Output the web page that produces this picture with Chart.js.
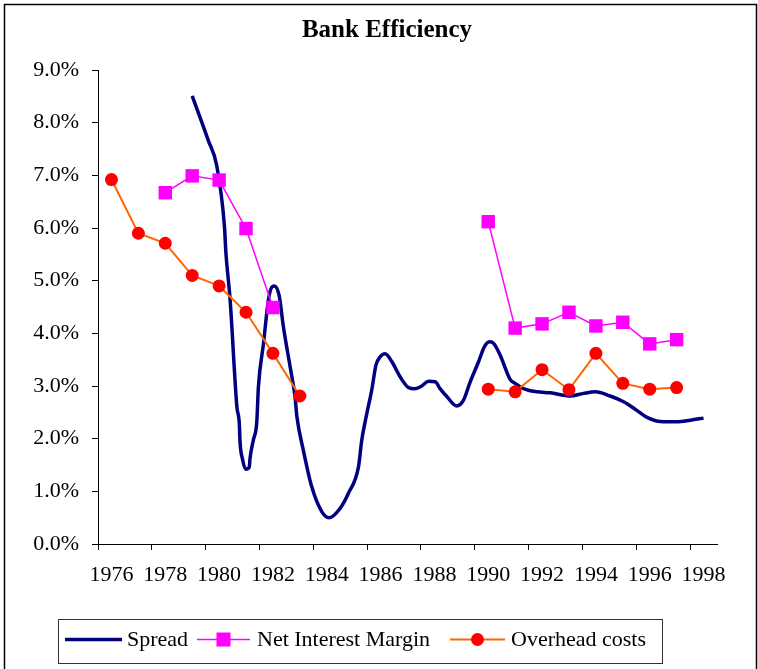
<!DOCTYPE html>
<html lang="en">
<head>
    <meta charset="UTF-8">
    <title>Bank Efficiency</title>
    <script src="https://cdn.jsdelivr.net/npm/chart.js"></script>
    <style>
        body { margin: 0; background: #fff; }
    </style>
</head>
<body>
    <canvas id="bankChart" width="758" height="669"></canvas>

    <script>
        // annual series (null = no data that year)
        const years = [1976, 1977, 1978, 1979, 1980, 1981, 1982, 1983, 1984, 1985, 1986, 1987,
                       1988, 1989, 1990, 1991, 1992, 1993, 1994, 1995, 1996, 1997, 1998];
        const netInterestMargin = [null, null, 6.67, 6.99, 6.91, 5.99, 4.49, null, null, null, null, null,
                                   null, null, 6.12, 4.10, 4.18, 4.40, 4.14, 4.21, 3.80, 3.88, null];
        const overheadCosts = [6.92, 5.90, 5.71, 5.10, 4.90, 4.40, 3.62, 2.81, null, null, null, null,
                               null, null, 2.94, 2.89, 3.31, 2.93, 3.62, 3.05, 2.94, 2.97, null];

        // spread is sampled more often than once a year
        const spreadYears = [1979.0, 1979.6, 1979.91, 1980.2, 1980.25, 1980.41, 1980.66, 1980.75, 1980.78,
                             1980.86, 1980.99, 1981.12, 1981.15, 1981.27, 1981.4, 1981.46, 1981.65, 1981.83,
                             1981.96, 1982.05, 1982.23, 1982.39, 1982.64, 1982.82, 1982.89, 1983.13, 1983.44,
                             1983.82, 1984.09, 1984.5, 1984.8, 1985.18, 1985.3, 1985.49, 1985.67, 1985.83,
                             1985.98, 1986.17, 1986.42, 1986.73, 1987.04, 1987.28, 1987.53, 1987.78, 1988.03,
                             1988.21, 1988.46, 1988.83, 1989.08, 1989.33, 1989.64, 1989.85, 1990.05, 1990.2,
                             1990.44, 1990.82, 1991.0, 1991.31, 1991.81, 1992.3, 1993.05, 1993.54, 1993.98,
                             1994.53, 1995.03, 1995.46, 1995.96, 1996.52, 1997.01, 1997.51, 1998.0];
        const spreadValues = [8.51, 7.66, 7.19, 6.02, 5.55, 4.63, 2.61, 2.29, 1.92,
                              1.63, 1.42, 1.46, 1.63, 1.97, 2.32, 2.98, 3.81, 4.63,
                              4.88, 4.90, 4.72, 4.12, 3.36, 2.80, 2.42, 1.78, 1.09,
                              0.61, 0.50, 0.68, 0.96, 1.47, 1.97, 2.48, 2.92, 3.40,
                              3.55, 3.61, 3.46, 3.17, 2.97, 2.95, 3.00, 3.09, 3.08,
                              2.95, 2.80, 2.62, 2.73, 3.08, 3.46, 3.74, 3.84, 3.81,
                              3.59, 3.12, 3.05, 2.95, 2.89, 2.87, 2.81, 2.86, 2.89,
                              2.81, 2.70, 2.56, 2.39, 2.32, 2.32, 2.35, 2.39];

        // x ticks sit between years, labels on the years
        const xTickPositions = [1975.5, 1977.5, 1979.5, 1981.5, 1983.5, 1985.5,
                                1987.5, 1989.5, 1991.5, 1993.5, 1995.5, 1997.5];
        const xTickLabels = ['1976', '1978', '1980', '1982', '1984', '1986',
                             '1988', '1990', '1992', '1994', '1996', '1998'];

        const chartTitle = 'Bank Efficiency';
        const serif = "'Times New Roman', 'Liberation Serif', serif";

        // frame round the picture and the title (title is off-centre in the original)
        const framePlugin = {
            id: 'frame',
            afterDraw(chart) {
                const c = chart.ctx;
                c.save();
                c.lineWidth = 1.5;
                c.strokeStyle = '#000';
                c.beginPath();
                c.moveTo(4.5, 680);
                c.lineTo(4.5, 4.5);
                c.lineTo(756.5, 4.5);
                c.lineTo(756.5, 680);
                c.stroke();

                c.fillStyle = '#000';
                c.font = 'bold 25px ' + serif;
                c.textAlign = 'center';
                c.textBaseline = 'alphabetic';
                c.fillText(chartTitle, 387, 37);
                c.restore();
            }
        };

        // excel style legend: line sample with marker in a box
        const legendPlugin = {
            id: 'boxLegend',
            afterDraw(chart) {
                const c = chart.ctx;
                const ds = chart.data.datasets;
                const y = 639.5;
                c.save();
                c.lineWidth = 1;
                c.strokeStyle = '#333';
                c.strokeRect(58.5, 619.5, 604, 44);

                const items = [
                    { x0: 65, x1: 122, tx: 127 },
                    { x0: 197, x1: 250, tx: 257 },
                    { x0: 450, x1: 505, tx: 511 }
                ];
                items.forEach((it, i) => {
                    const d = ds[i];
                    c.strokeStyle = d.borderColor;
                    c.lineWidth = d.borderWidth;
                    c.beginPath();
                    c.moveTo(it.x0, y);
                    c.lineTo(it.x1, y);
                    c.stroke();
                    const mx = (it.x0 + it.x1) / 2;
                    if (d.pointStyle === 'rect') {
                        c.fillStyle = d.pointBackgroundColor;
                        c.fillRect(mx - 7, y - 7, 14, 14);
                    } else if (d.pointStyle === 'circle') {
                        c.fillStyle = d.pointBackgroundColor;
                        c.beginPath();
                        c.arc(mx, y, 6.5, 0, Math.PI * 2);
                        c.fill();
                    }
                    c.fillStyle = '#000';
                    c.font = '22px ' + serif;
                    c.textBaseline = 'alphabetic';
                    c.fillText(d.label, it.tx, 646);
                });
                c.restore();
            }
        };

        const ctx = document.getElementById('bankChart').getContext('2d');
        new Chart(ctx, {
            type: 'line',
            data: {
                datasets: [{
                    label: 'Spread',
                    data: spreadYears.map((x, i) => ({ x: x, y: spreadValues[i] })),
                    borderColor: '#000080',
                    borderWidth: 3.5,
                    pointRadius: 0,
                    cubicInterpolationMode: 'monotone',
                    order: 3
                }, {
                    label: 'Net Interest Margin',
                    data: years.map((x, i) => ({ x: x, y: netInterestMargin[i] })),
                    borderColor: '#FF00FF',
                    borderWidth: 1.5,
                    pointStyle: 'rect',
                    pointRadius: 9.5,
                    pointBackgroundColor: '#FF00FF',
                    pointBorderWidth: 0,
                    spanGaps: false,
                    order: 2
                }, {
                    label: 'Overhead costs',
                    data: years.map((x, i) => ({ x: x, y: overheadCosts[i] })),
                    borderColor: '#FF6600',
                    borderWidth: 2,
                    pointStyle: 'circle',
                    pointRadius: 6.5,
                    pointBackgroundColor: '#FF0000',
                    pointBorderWidth: 0,
                    spanGaps: false,
                    order: 1
                }]
            },
            options: {
                responsive: false,
                animation: false,
                layout: { padding: { left: 0, right: 41, top: 70, bottom: 80 } },
                plugins: {
                    legend: { display: false },
                    tooltip: { enabled: false },
                    title: { display: false }
                },
                scales: {
                    x: {
                        type: 'linear',
                        min: 1975.5,
                        max: 1998.5,
                        afterBuildTicks: s => { s.ticks = xTickPositions.map(v => ({ value: v })); },
                        afterFit: s => { s.height = 45; },
                        ticks: {
                            autoSkip: false,
                            maxRotation: 0,
                            labelOffset: 13.45,
                            padding: 12,
                            color: '#000',
                            font: { family: serif, size: 22 },
                            callback: (v, i) => xTickLabels[i]
                        },
                        grid: { drawOnChartArea: false, tickLength: 6, color: '#000' },
                        border: { color: '#000', width: 1 }
                    },
                    y: {
                        min: 0,
                        max: 9,
                        afterFit: s => { s.width = 98; },
                        ticks: {
                            stepSize: 1,
                            padding: 13,
                            color: '#000',
                            font: { family: serif, size: 22 },
                            callback: v => v.toFixed(1) + '%'
                        },
                        grid: { drawOnChartArea: false, tickLength: 6, color: '#000' },
                        border: { color: '#000', width: 1 }
                    }
                }
            },
            plugins: [framePlugin, legendPlugin]
        });
    </script>
</body>
</html>
